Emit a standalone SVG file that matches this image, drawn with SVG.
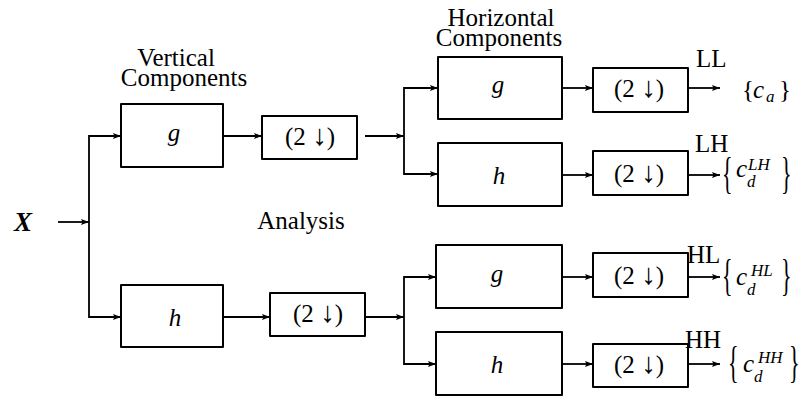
<svg xmlns="http://www.w3.org/2000/svg" width="801" height="398" viewBox="0 0 801 398">
  <defs>
    <marker id="arr" markerUnits="userSpaceOnUse" markerWidth="9" markerHeight="7" refX="8" refY="3.5" orient="auto">
      <path d="M0,0.5 L8,3.5 L0,6.5 L1.5,3.5 z" fill="#000"/>
    </marker>
  </defs>
  <style>
    .box { fill: #fff; stroke: #000; stroke-width: 2; stroke-linejoin: round; }
    .ln { fill: none; stroke: #000; stroke-width: 1.8; }
    .ar { fill: none; stroke: #000; stroke-width: 1.8; marker-end: url(#arr); }
    text { font-family: "Liberation Serif", "DejaVu Serif", serif; fill: #000; }
    .t { font-size: 25px; }
    .m { font-size: 25px; font-style: italic; }
    .ds { font-size: 25px; }
    .dn { font-size: 29px; }
    .sub { font-size: 17px; font-style: italic; }
    .big { font-size: 44px; }
  </style>

  <rect width="801" height="398" fill="#fff"/>

  <!-- headings -->
  <g id="labels">
    <text class="t" text-anchor="middle"><tspan x="176" y="66">Vertical</tspan><tspan x="184" y="86">Components</tspan></text>
    <text class="t" text-anchor="middle"><tspan x="501" y="26">Horizontal</tspan><tspan x="499" y="46">Components</tspan></text>
    <text class="t" x="301" y="229" text-anchor="middle">Analysis</text>
  </g>

  <!-- input -->
  <g id="input">
    <text x="14" y="231" font-size="27" font-weight="bold" font-style="italic">X</text>
  </g>

  <!-- connectors -->
  <g id="connectors">
    <line class="ar" x1="58" y1="222" x2="89" y2="222"/>
    <polyline class="ln" points="121,136 89,136 89,317 121,317"/>
    <line class="ar" x1="96" y1="136" x2="121" y2="136"/>
    <line class="ar" x1="96" y1="317" x2="121" y2="317"/>

    <line class="ar" x1="223" y1="136" x2="262" y2="136"/>
    <line class="ar" x1="365" y1="136" x2="404" y2="136"/>
    <line class="ar" x1="223" y1="317" x2="270" y2="317"/>
    <line class="ar" x1="365" y1="317" x2="404" y2="317"/>

    <polyline class="ln" points="430,88 404,88 404,174 430,174"/>
    <polyline class="ln" points="430,277 404,277 404,364 430,364"/>
    <line class="ar" x1="420" y1="88" x2="438" y2="88"/>
    <line class="ar" x1="420" y1="174" x2="438" y2="174"/>
    <line class="ar" x1="420" y1="277" x2="436" y2="277"/>
    <line class="ar" x1="420" y1="364" x2="436" y2="364"/>

    <line class="ar" x1="562" y1="88" x2="593" y2="88"/>
    <line class="ar" x1="562" y1="175" x2="593" y2="175"/>
    <line class="ar" x1="562" y1="277" x2="593" y2="277"/>
    <line class="ar" x1="562" y1="364" x2="593" y2="364"/>

    <line class="ar" x1="688" y1="88" x2="720" y2="88"/>
    <line class="ar" x1="688" y1="175" x2="720" y2="175"/>
    <line class="ar" x1="688" y1="277" x2="720" y2="277"/>
    <line class="ar" x1="688" y1="364" x2="720" y2="364"/>
  </g>

  <!-- vertical stage -->
  <g id="v-g">
    <rect class="box" x="121" y="104" width="102" height="63"/>
    <text class="m" x="174" y="141" text-anchor="middle">g</text>
  </g>
  <g id="v-h">
    <rect class="box" x="121" y="285" width="102" height="62"/>
    <text class="m" x="175" y="326" text-anchor="middle">h</text>
  </g>
  <g id="v-down-g">
    <rect class="box" x="262" y="116" width="95" height="43"/>
    <text class="ds" x="310" y="145" text-anchor="middle">(2 <tspan class="dn">↓</tspan>)</text>
  </g>
  <g id="v-down-h">
    <rect class="box" x="270" y="293" width="95" height="43"/>
    <text class="ds" x="318" y="322" text-anchor="middle">(2 <tspan class="dn">↓</tspan>)</text>
  </g>

  <!-- horizontal stage -->
  <g id="h-gg">
    <rect class="box" x="438" y="57" width="124" height="62"/>
    <text class="m" x="498" y="93" text-anchor="middle">g</text>
  </g>
  <g id="h-gh">
    <rect class="box" x="438" y="143" width="124" height="63"/>
    <text class="m" x="499" y="184" text-anchor="middle">h</text>
  </g>
  <g id="h-hg">
    <rect class="box" x="436" y="245" width="126" height="63"/>
    <text class="m" x="497" y="282" text-anchor="middle">g</text>
  </g>
  <g id="h-hh">
    <rect class="box" x="436" y="332" width="126" height="63"/>
    <text class="m" x="497" y="373" text-anchor="middle">h</text>
  </g>

  <g id="down-ll">
    <rect class="box" x="593" y="68" width="95" height="44"/>
    <text class="ds" x="639" y="97" text-anchor="middle">(2 <tspan class="dn">↓</tspan>)</text>
  </g>
  <g id="down-lh">
    <rect class="box" x="593" y="151" width="95" height="44"/>
    <text class="ds" x="639" y="182" text-anchor="middle">(2 <tspan class="dn">↓</tspan>)</text>
  </g>
  <g id="down-hl">
    <rect class="box" x="593" y="253" width="95" height="44"/>
    <text class="ds" x="639" y="284" text-anchor="middle">(2 <tspan class="dn">↓</tspan>)</text>
  </g>
  <g id="down-hh">
    <rect class="box" x="593" y="344" width="95" height="43"/>
    <text class="ds" x="639" y="373" text-anchor="middle">(2 <tspan class="dn">↓</tspan>)</text>
  </g>

  <!-- sub-band outputs -->
  <g id="out-ll">
    <text class="t" x="696" y="67">LL</text>
    <text class="ds" x="742" y="98">{</text>
    <text class="m" x="753" y="98">c</text>
    <text class="sub" x="766" y="102">a</text>
    <text class="ds" x="779" y="98">}</text>
  </g>
  <g id="out-lh">
    <text class="t" x="695" y="152">LH</text>
    <text class="big" transform="translate(722,188) scale(0.5,1)">{</text>
    <text class="m" x="736" y="177">c</text>
    <text class="sub" x="747" y="187">d</text>
    <text class="sub" x="748" y="170">LH</text>
    <text class="big" transform="translate(781,188) scale(0.5,1)">}</text>
  </g>
  <g id="out-hl">
    <text class="t" x="687" y="263">HL</text>
    <text class="big" transform="translate(722,290) scale(0.5,1)">{</text>
    <text class="m" x="736" y="285">c</text>
    <text class="sub" x="747" y="295">d</text>
    <text class="sub" x="751" y="276">HL</text>
    <text class="big" transform="translate(781,290) scale(0.5,1)">}</text>
  </g>
  <g id="out-hh">
    <text class="t" x="685" y="348">HH</text>
    <text class="big" transform="translate(728,377) scale(0.5,1)">{</text>
    <text class="m" x="743" y="372">c</text>
    <text class="sub" x="754" y="382">d</text>
    <text class="sub" x="758" y="363">HH</text>
    <text class="big" transform="translate(789,377) scale(0.5,1)">}</text>
  </g>
</svg>
